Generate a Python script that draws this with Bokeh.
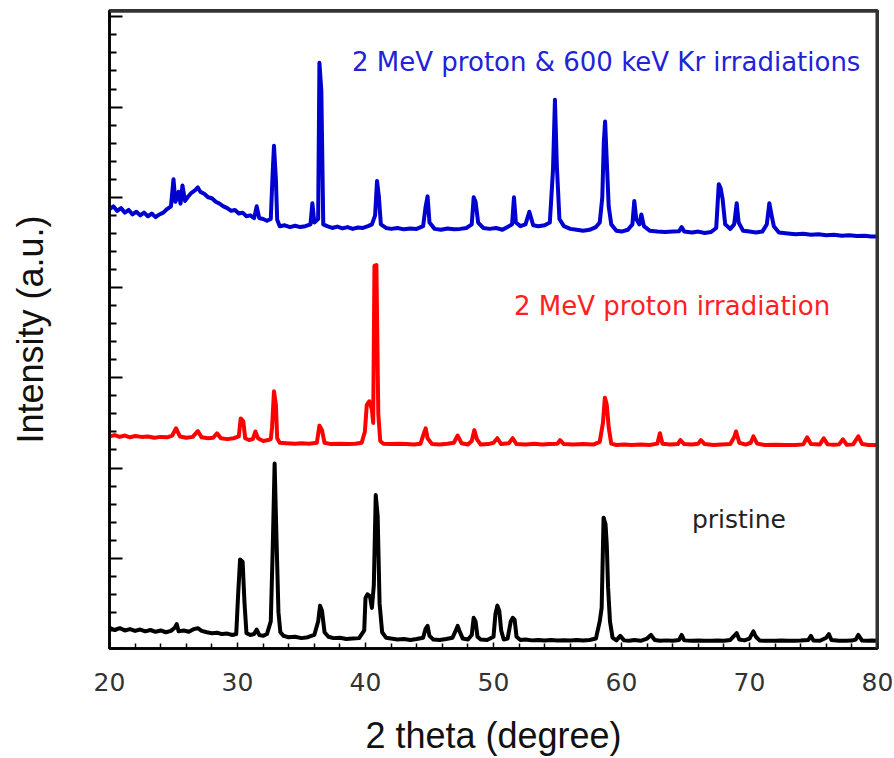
from bokeh.plotting import figure
from bokeh.models import FixedTicker, Label, LinearAxis, Span
from bokeh.embed import file_html
from bokeh.resources import INLINE

# ---------------- data (2 theta in degrees, intensity in arbitrary counts) ----------------
pristine_x = [20.0, 20.4, 20.8, 21.2, 21.6, 22.0, 22.4, 22.8, 23.2, 23.6,
              24.0, 24.4, 24.8, 25.1, 25.25, 25.4, 25.8, 26.2, 26.6, 26.9,
              27.2, 27.6, 28.0, 28.4, 28.8, 29.2, 29.6, 29.9, 30.05, 30.2,
              30.4, 30.55, 30.7, 31.0, 31.3, 31.5, 31.7, 32.0, 32.3, 32.6,
              32.75, 32.9, 33.05, 33.2, 33.35, 33.6, 34.0, 34.5, 35.0, 35.5,
              36.0, 36.3, 36.45, 36.6, 36.8, 37.1, 37.5, 38.0, 38.5, 39.0,
              39.5, 39.9, 40.0, 40.15, 40.35, 40.5, 40.65, 40.8, 40.95, 41.1,
              41.3, 41.6, 42.0, 42.5, 43.0, 43.5, 44.0, 44.5, 44.7, 44.85,
              45.0, 45.3, 45.8, 46.3, 46.8, 47.05, 47.2, 47.35, 47.6, 48.0,
              48.3, 48.45, 48.6, 48.75, 49.0, 49.5, 50.0, 50.15, 50.3, 50.45,
              50.6, 50.8, 51.1, 51.35, 51.5, 51.65, 51.8, 52.1, 52.5, 53.0,
              53.5, 54.0, 54.5, 55.0, 55.5, 56.0, 56.5, 57.0, 57.5, 58.0,
              58.3, 58.45, 58.6, 58.75, 58.85, 58.95, 59.1, 59.3, 59.6, 59.9,
              60.2, 60.6, 61.0, 61.5, 62.0, 62.3, 62.6, 63.0, 63.5, 64.0,
              64.5, 64.7, 64.9, 65.5, 66.0, 66.5, 67.0, 67.5, 68.0, 68.5,
              68.8, 69.0, 69.2, 69.6, 70.0, 70.3, 70.5, 70.8, 71.5, 72.0,
              72.5, 73.0, 73.5, 74.0, 74.6, 74.8, 75.0, 75.5, 76.0, 76.2,
              76.4, 77.0, 77.5, 78.0, 78.3, 78.5, 78.8, 79.2, 79.6, 80.0]
pristine_y = [230, 205, 225, 200, 215, 195, 210, 190, 205, 185,
              200, 180, 195, 230, 270, 190, 200, 185, 215, 225,
              195, 180, 170, 175, 160, 165, 150, 160, 600, 985,
              960, 500, 170, 150, 160, 210, 150, 140, 160, 300,
              1100, 2050, 1200, 400, 180, 140, 125, 130, 115, 125,
              150, 300, 475, 420, 180, 130, 115, 120, 105, 110,
              115, 200, 560, 600, 580, 450, 700, 1700, 1470, 500,
              180, 120, 110, 100, 105, 95, 105, 120, 220, 250,
              140, 100, 95, 105, 120, 200, 250, 190, 110, 100,
              150, 340, 300, 130, 100, 95, 130, 380, 475, 420,
              200, 100, 110, 300, 340, 320, 130, 95, 100, 90,
              95, 88, 95, 88, 92, 88, 95, 88, 95, 110,
              300, 450, 1450, 1380, 1150, 680, 300, 120, 90, 140,
              90, 85, 95, 85, 110, 150, 95, 85, 90, 85,
              95, 150, 90, 85, 88, 85, 85, 88, 85, 95,
              140, 170, 100, 90, 110, 190, 130, 88, 85, 85,
              88, 85, 85, 88, 95, 140, 88, 85, 120, 160,
              95, 85, 85, 88, 100, 150, 88, 85, 88, 85]

proton_x = [20.0, 20.4, 20.8, 21.2, 21.6, 22.0, 22.5, 23.0, 23.5, 24.0,
            24.5, 24.9, 25.2, 25.5, 26.0, 26.5, 26.9, 27.2, 27.7, 28.1,
            28.4, 28.7, 29.2, 29.7, 30.1, 30.25, 30.45, 30.6, 30.9, 31.2,
            31.4, 31.6, 32.0, 32.4, 32.6, 32.7, 32.85, 33.0, 33.1, 33.3,
            33.8, 34.5, 35.0, 35.6, 36.2, 36.4, 36.6, 36.8, 37.3, 38.0,
            38.6, 39.2, 39.7, 39.95, 40.1, 40.3, 40.5, 40.6, 40.7, 40.85,
            41.0, 41.15, 41.4, 42.0, 42.6, 43.2, 43.8, 44.3, 44.55, 44.7,
            44.85, 45.2, 45.8, 46.4, 46.9, 47.2, 47.5, 48.0, 48.3, 48.5,
            48.7, 49.0, 49.6, 50.0, 50.3, 50.6, 51.2, 51.5, 51.8, 52.5,
            53.2, 53.8, 54.4, 55.0, 55.2, 55.5, 56.2, 57.0, 57.8, 58.3,
            58.55, 58.7, 58.85, 59.0, 59.2, 59.6, 60.2, 60.8, 61.5, 62.2,
            62.8, 63.0, 63.2, 63.8, 64.4, 64.6, 64.9, 65.5, 66.0, 66.2,
            66.5, 67.2, 67.8, 68.5, 68.8, 68.95, 69.2, 69.7, 70.1, 70.3,
            70.6, 71.2, 72.0, 72.8, 73.6, 74.2, 74.5, 74.8, 75.5, 75.8,
            76.1, 76.6, 77.0, 77.3, 77.6, 78.1, 78.5, 78.8, 79.3, 80.0]
proton_y = [2350, 2365, 2345, 2360, 2340, 2355, 2345, 2350, 2335, 2345,
            2340, 2360, 2440, 2350, 2335, 2345, 2410, 2340, 2330, 2335,
            2385, 2330, 2320, 2330, 2350, 2550, 2520, 2330, 2310, 2320,
            2405, 2330, 2300, 2310, 2320, 2450, 2850, 2700, 2330, 2280,
            2275, 2270, 2275, 2270, 2280, 2470, 2420, 2280, 2265, 2270,
            2265, 2270, 2280, 2400, 2700, 2740, 2650, 2500, 4240, 4250,
            2600, 2300, 2270, 2265, 2270, 2265, 2260, 2270, 2380, 2440,
            2330, 2265, 2260, 2270, 2280, 2360, 2275, 2260, 2300, 2420,
            2320, 2260, 2265, 2280, 2330, 2265, 2275, 2330, 2265, 2260,
            2270, 2260, 2265, 2270, 2310, 2265, 2260, 2265, 2260, 2290,
            2500, 2780, 2700, 2450, 2270, 2255, 2260, 2255, 2260, 2255,
            2270, 2385, 2270, 2260, 2265, 2310, 2265, 2260, 2270, 2310,
            2265, 2255, 2260, 2265, 2340, 2405, 2280, 2260, 2280, 2350,
            2270, 2255, 2258, 2255, 2255, 2262, 2340, 2265, 2262, 2330,
            2262, 2258, 2262, 2318, 2258, 2262, 2352, 2265, 2255, 2255]

kr_x = [20.0, 20.3, 20.6, 20.9, 21.2, 21.5, 21.8, 22.1, 22.4, 22.7,
        23.0, 23.3, 23.6, 23.9, 24.2, 24.5, 24.8, 25.0, 25.15, 25.4,
        25.55, 25.7, 25.9, 26.1, 26.4, 26.7, 26.9, 27.1, 27.4, 27.7,
        28.0, 28.3, 28.6, 28.9, 29.2, 29.5, 29.8, 30.1, 30.4, 30.7,
        31.0, 31.3, 31.5, 31.7, 32.0, 32.3, 32.6, 32.75, 32.85, 33.0,
        33.1, 33.3, 33.7, 34.1, 34.5, 34.9, 35.3, 35.7, 35.85, 36.0,
        36.3, 36.4, 36.55, 36.7, 37.0, 37.4, 37.8, 38.2, 38.6, 39.0,
        39.4, 39.8, 40.2, 40.5, 40.75, 40.9, 41.05, 41.2, 41.6, 42.0,
        42.5, 43.0, 43.5, 44.0, 44.5, 44.7, 44.85, 45.0, 45.4, 45.9,
        46.4, 46.9, 47.4, 47.9, 48.3, 48.45, 48.6, 48.8, 49.2, 49.7,
        50.2, 50.7, 51.2, 51.45, 51.6, 51.75, 52.1, 52.5, 52.8, 53.1,
        53.5, 54.0, 54.4, 54.65, 54.8, 54.95, 55.15, 55.5, 56.0, 56.5,
        57.0, 57.5, 58.0, 58.3, 58.5, 58.62, 58.72, 58.85, 59.0, 59.2,
        59.6, 60.0, 60.5, 60.85, 61.0, 61.15, 61.4, 61.55, 61.75, 62.2,
        62.8, 63.4, 64.0, 64.5, 64.7, 64.9, 65.5, 66.0, 66.5, 67.0,
        67.4, 67.6, 67.75, 67.9, 68.1, 68.5, 68.8, 69.0, 69.15, 69.5,
        70.0, 70.5, 71.0, 71.35, 71.55, 71.7, 71.9, 72.3, 73.0, 73.6,
        74.2, 74.8, 75.4, 76.0, 76.6, 77.2, 77.8, 78.4, 79.0, 79.5,
        80.0]
kr_y = [4870, 4900, 4850, 4880, 4830, 4860, 4810, 4840, 4800, 4830,
        4790, 4820, 4780, 4810, 4830, 4870, 4900, 5200, 4950, 5060,
        4930, 5130, 4960, 5000, 5050, 5080, 5110, 5060, 5040, 5000,
        4990, 4950, 4930, 4900, 4880, 4850, 4860, 4820, 4830, 4790,
        4800, 4770, 4900, 4770, 4760, 4740, 4760, 5280, 5570, 5200,
        4750, 4680, 4690, 4670, 4685, 4670, 4680, 4700, 4935, 4720,
        4760, 6490, 6180, 4700, 4680, 4660, 4675, 4655, 4670, 4650,
        4665, 4660, 4680, 4700, 4800, 5180, 5000, 4700, 4660, 4650,
        4660, 4645, 4655, 4650, 4680, 4900, 5010, 4720, 4650, 4640,
        4655, 4645, 4650, 4660, 4700, 5000, 4950, 4720, 4660, 4650,
        4660, 4640, 4680, 4700, 5000, 4720, 4680, 4700, 4840, 4690,
        4680, 4690, 4720, 5310, 6080, 5350, 4760, 4680, 4650, 4640,
        4630, 4640, 4670, 4720, 5000, 5620, 5840, 5400, 4900, 4700,
        4630, 4620, 4640, 4700, 4960, 4760, 4700, 4810, 4680, 4630,
        4620, 4615, 4620, 4625, 4670, 4620, 4610, 4620, 4605, 4615,
        4660, 5145, 5100, 4980, 4700, 4650, 4700, 4935, 4720, 4630,
        4620, 4610, 4620, 4700, 4935, 4820, 4680, 4610, 4600, 4590,
        4595, 4585, 4590, 4580, 4585, 4575, 4580, 4570, 4575, 4565,
        4565]

x_major = [20, 30, 40, 50, 60, 70, 80]
x_minor = [22, 24, 26, 28, 32, 34, 36, 38, 42, 44, 46, 48, 52, 54, 56, 58,
           62, 64, 66, 68, 72, 74, 76, 78]
y_major = [0, 1000, 2000, 3000, 4000, 5000, 6000, 7000]
y_minor = [200, 400, 600, 800, 1200, 1400, 1600, 1800, 2200, 2400, 2600, 2800,
           3200, 3400, 3600, 3800, 4200, 4400, 4600, 4800, 5200, 5400, 5600, 5800,
           6200, 6400, 6600, 6800]

labels = ["2 MeV proton & 600 keV Kr irradiations", "2 MeV proton irradiation", "pristine"]

X_START, X_END = 20, 80
Y_START, Y_END = 0, 7070

# ---------------- figure ----------------
p = figure(width=894, height=758, x_range=(X_START, X_END), y_range=(Y_START, Y_END),
           output_backend="svg", toolbar_location=None,
           min_border_left=109, min_border_right=17, min_border_top=10, min_border_bottom=110)
p.background_fill_color = "white"
p.border_fill_color = "white"
p.xgrid.visible = False
p.ygrid.visible = False
p.outline_line_color = "#333333"
p.outline_line_width = 3
p.outline_line_alpha = 1.0

p.line(pristine_x, pristine_y, color="#000000", line_width=4, line_join="round")
p.line(proton_x, proton_y, color="#ff0000", line_width=4, line_join="round")
p.line(kr_x, kr_y, color="#0000d0", line_width=4, line_join="round")

# x axis
xa = p.xaxis[0]
xa.ticker = FixedTicker(ticks=x_major, minor_ticks=x_minor)
xa.major_tick_in = 6
xa.major_tick_out = 0
xa.minor_tick_in = 5
xa.minor_tick_out = 0
xa.axis_line_width = 2.5
xa.axis_line_color = "black"
xa.major_tick_line_width = 1.5
xa.minor_tick_line_width = 1.5
xa.major_label_text_font = "DejaVu Sans"
xa.major_label_text_font_size = "25px"
xa.major_label_text_color = "#333333"
xa.major_label_standoff = 24
xa.axis_label = "2 theta (degree)"
xa.axis_label_text_font = "Liberation Sans"
xa.axis_label_text_font_size = "36px"
xa.axis_label_text_font_style = "normal"
xa.axis_label_text_color = "#111111"
xa.axis_label_standoff = 21

# y axis: inner axis carries the short ticks, outer one the long ticks and the title
ya = p.yaxis[0]
ya.ticker = FixedTicker(ticks=[], minor_ticks=y_minor)
ya.major_tick_in = 0
ya.major_tick_out = 0
ya.minor_tick_in = 7
ya.minor_tick_out = 0
ya.axis_line_width = 2.5
ya.axis_line_color = "black"
ya.minor_tick_line_width = 2
ya.major_label_standoff = 0
ya.axis_label_standoff = 0

ya2 = LinearAxis(ticker=FixedTicker(ticks=[], minor_ticks=y_major),
                 major_tick_in=0, major_tick_out=0, minor_tick_in=13, minor_tick_out=0,
                 minor_tick_line_width=2, axis_line_color=None, major_label_standoff=0,
                 axis_label="Intensity (a.u.)", axis_label_text_font="Liberation Sans",
                 axis_label_text_font_size="36px", axis_label_text_font_style="normal",
                 axis_label_text_color="#111111", axis_label_standoff=59)
p.add_layout(ya2, "left")

# closing box on top and right (placed just inside the frame so they are not clipped)
p.add_layout(Span(location=Y_END - 12, dimension="width", line_color="#333333",
                  line_width=2.5, level="overlay"))
p.add_layout(Span(location=X_END - 0.06, dimension="height", line_color="#333333",
                  line_width=2.5, level="overlay"))

p.add_layout(Label(x=38.95, y=6500, text=labels[0], text_font="DejaVu Sans",
                   text_font_size="26px", text_color="#2222d8", text_baseline="alphabetic"))
p.add_layout(Label(x=51.6, y=3797, text=labels[1], text_font="DejaVu Sans",
                   text_font_size="26px", text_color="#ff2020", text_baseline="alphabetic"))
p.add_layout(Label(x=65.5, y=1427, text=labels[2], text_font="DejaVu Sans",
                   text_font_size="25px", text_color="#222222", text_baseline="alphabetic"))

open("out.html", "w").write(file_html(p, INLINE))
